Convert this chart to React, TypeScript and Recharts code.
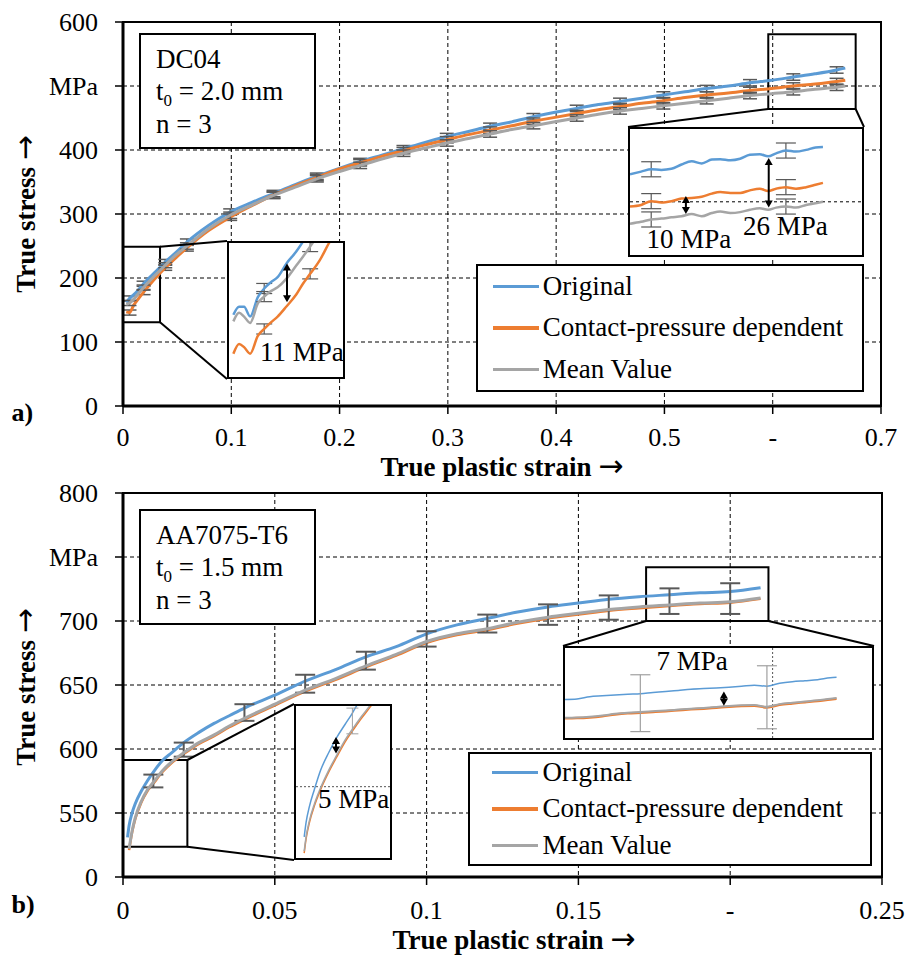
import React from 'react';
import {
  LineChart,
  Line,
  XAxis,
  YAxis,
  CartesianGrid,
  ErrorBar,
  ReferenceArea,
  ReferenceLine,
  Legend,
} from 'recharts';

const FONT = '"Liberation Serif", "Times New Roman", serif';
const ARROW_FONT = '"DejaVu Sans", sans-serif';
const BLUE = '#5B9BD5';
const ORANGE = '#ED7D31';
const GRAY = '#A5A5A5';
const ERR_DARK = '#595959';
const ERR_LIGHT = '#A0A0A0';

// ---------- a) DC04, main curves ----------
const xA = [0.003, 0.006, 0.01, 0.014, 0.019, 0.029, 0.039, 0.049, 0.059, 0.079, 0.099, 0.119, 0.139, 0.159, 0.179, 0.199,
  0.219, 0.239, 0.259, 0.279, 0.299, 0.319, 0.339, 0.359, 0.379, 0.399, 0.419, 0.439, 0.459, 0.479, 0.499, 0.519,
  0.539, 0.559, 0.579, 0.599, 0.619, 0.639, 0.659, 0.667];
const origA = [162, 168, 174, 181, 191, 208, 225, 240, 256, 282, 303, 318, 332, 346, 359, 371,
  382, 392, 402, 412, 421, 429, 437, 444, 452, 459, 465, 471, 476, 481, 486, 491,
  496, 500, 505, 509, 514, 519, 525, 528];
const contactA = [147, 146, 158, 167, 178, 198, 216, 232, 247, 274, 295, 313, 330, 344, 357, 370,
  380, 390, 399, 408, 416, 424, 431, 438, 445, 451, 457, 463, 468, 473, 477, 482,
  486, 489, 493, 496, 500, 503, 507, 509];
const meanA = [159, 161, 167, 175, 185, 203, 220, 236, 250, 277, 298, 314, 329, 342, 355, 366,
  376, 386, 395, 403, 411, 418, 425, 432, 438, 444, 450, 456, 461, 465, 469, 473,
  477, 481, 485, 488, 491, 495, 498, 500];
const errA = [null, 4, null, null, 4, null, 4, null, 5, null, 5, null, 5, null, 5, null,
  5, null, 5, null, 5, null, 5, null, 5, null, 5, null, 5, null, 5, null,
  5, null, 5, null, 5, null, 5, null];

const xTicksA = [0, 0.1, 0.2, 0.3, 0.4, 0.5, 0.6, 0.7];
const xLabelsA = ['0', '0.1', '0.2', '0.3', '0.4', '0.5', '-', '0.7'];
const yTicksA = [0, 100, 200, 300, 400, 500, 600];
const yLabelsA = ['0', '100', '200', '300', '400', 'MPa', '600'];

// inset a1 (start of curve)
const xInA = [0.0013, 0.003, 0.0045, 0.0063, 0.0086, 0.0105, 0.0125, 0.0145, 0.0172, 0.02, 0.022, 0.0242, 0.027, 0.0297, 0.032];
const origInA = [162.6, 165.8, 165.8, 161.9, 169.6, 173.0, 175.5, 177.5, 183.0, 187.5, 191.4, 196, 200, 204, 208];
const contactInA = [147.2, 151.1, 149.8, 147.2, 154.3, 157.0, 159.6, 161.9, 166.0, 170.5, 174.8, 178.8, 184.0, 190.7, 196];
const meanInA = [160.0, 163.4, 161.9, 159.4, 167.1, 169.8, 172.0, 173.5, 177.0, 182.0, 185.5, 189.6, 195, 199, 203];
const errInA = [null, null, null, null, null, 2, null, null, null, null, null, 2, null, null, null];

// inset a2 (end of curve)
const xInA2 = [0.6127, 0.616, 0.619, 0.622, 0.625, 0.628, 0.631, 0.634, 0.637, 0.6395, 0.6425, 0.6454, 0.6483, 0.6512,
  0.6537, 0.6561, 0.659, 0.662, 0.665, 0.6678, 0.67];
const origInA2 = [512.0, 513.2, 514.3, 514.0, 514.5, 516.5, 518.0, 517.0, 518.8, 519.0, 518.5, 519.2, 521.0, 521.3,
  520.3, 521.7, 523.0, 522.5, 523.3, 524.4, 524.6];
const contactInA2 = [497.0, 497.7, 499.5, 498.9, 499.5, 500.7, 501.0, 501.5, 503.0, 503.7, 503.3, 503.3, 504.5, 505.3,
  504.2, 505.3, 506.0, 505.3, 506.0, 507.1, 508.0];
const meanInA2 = [489.0, 489.9, 491.0, 491.4, 492.0, 492.5, 493.5, 492.5, 494.0, 494.7, 494.0, 494.4, 495.5, 496.2,
  495.5, 496.5, 497.0, 496.5, 497.7, 498.5, 499.2];
const errInA2 = [null, null, 3.5, null, null, null, null, null, null, null, null, null, null, null,
  null, null, 3.5, null, null, null, null];

// ---------- b) AA7075-T6, main curves ----------
const xB = [0.0015, 0.002, 0.003, 0.004, 0.006, 0.008, 0.01, 0.013, 0.016, 0.02, 0.025, 0.03, 0.035, 0.04, 0.05, 0.06,
  0.07, 0.08, 0.09, 0.1, 0.11, 0.12, 0.13, 0.14, 0.15, 0.16, 0.17, 0.18, 0.19, 0.2, 0.21];
const origB = [531, 540, 550, 557, 567, 575, 582, 591, 597, 605, 613, 620, 626, 632, 642, 653,
  662, 672, 680, 690, 697, 702, 707, 711, 714, 717, 719, 720.5, 722, 723, 726];
const contactB = [null, 521, 535, 545, 558, 567, 573, 582, 589, 596, 604, 610, 617, 623, 634, 645,
  654, 664, 673, 683, 689, 693, 698, 702, 705, 708, 710, 711.8, 713.3, 714.3, 717.3];
const meanB = [null, 522, 536, 546, 559, 568, 574, 583, 590, 597, 605, 611, 618, 624, 635, 646,
  655, 665, 674, 684, 690, 694, 699, 703, 706, 709, 711, 712.5, 714, 715, 718];
const errB = [null, null, null, null, null, null, [4, 6], null, null, [3, 8], null, null, null, [2, 11], null, [2, 12],
  null, [3, 11], null, [4, 8], null, [3, 11], null, [6, 10], null, [8, 11], null, [7, 13], null, [9.5, 14.5], null];

const xTicksB = [0, 0.05, 0.1, 0.15, 0.2, 0.25];
const xLabelsB = ['0', '0.05', '0.1', '0.15', '-', '0.25'];
const yTicksB = [500, 550, 600, 650, 700, 750, 800];
const yLabelsB = ['0', '550', '600', '650', '700', 'MPa', '800'];

// inset b1 (start of curve)
const xInB = [0.0017, 0.0021, 0.0028, 0.0038, 0.0051, 0.0068, 0.0084, 0.0102, 0.0117, 0.0124, 0.0135, 0.0154, 0.0165];
const origInB = [531.0, 537.3, 544.2, 551.2, 559.5, 567.1, 573.4, 579.2, 584.0, 586.5, 590, 596, 599];
const contactInB = [524.1, 530.3, 537.3, 544.2, 551.2, 558.8, 565.0, 571.7, 576.3, 578.3, 581.5, 586.6, 590];
const meanInB = [524.9, 531.1, 538.1, 545.0, 552.0, 559.6, 565.8, 572.5, 577.1, 579.1, 582.3, 587.4, 590.8];
const errInB = [null, null, null, null, null, null, null, null, [2, 9], null, null, null, null];

// inset b2 (end of curve)
const xInB2 = [0.168, 0.17, 0.172, 0.174, 0.176, 0.178, 0.18, 0.182, 0.184, 0.186, 0.188, 0.19, 0.192, 0.194, 0.196,
  0.198, 0.2, 0.202, 0.204, 0.206, 0.208, 0.21, 0.211];
const origInB2 = [718.3, 718.5, 719.4, 719.8, 720.2, 720.5, 720.7, 721.2, 721.6, 722.1, 722.6, 722.9, 723.1, 723.4,
  723.8, 724.3, 723.9, 725.1, 725.8, 726.2, 726.6, 727.4, 727.6];
const contactInB2 = [710.3, 710.4, 710.7, 711.2, 711.9, 712.4, 712.7, 713.0, 713.3, 713.7, 714.1, 714.4, 714.8, 715.2,
  715.5, 715.6, 714.9, 716.0, 716.6, 717.1, 717.6, 718.3, 718.6];
const meanInB2 = [710.6, 710.7, 711.0, 711.5, 712.2, 712.7, 713.0, 713.3, 713.6, 714.0, 714.4, 714.7, 715.1, 715.5,
  715.8, 715.9, 715.2, 716.3, 716.9, 717.4, 717.9, 718.6, 718.9];
const errInB2 = [null, null, null, null, null, null, [8.3, 15.7], null, null, null, null, null, null, null,
  null, null, [9.3, 17.3], null, null, null, null, null, null];

const seriesNames = ['Original', 'Contact-pressure dependent', 'Mean Value'];

function rows(xs: number[], o: any[], c: any[], m: any[], e: any[]) {
  return xs.map((x, i) => ({ x, orig: o[i], contact: c[i], mean: m[i], err: e[i] }));
}

const dataA = rows(xA, origA, contactA, meanA, errA);
const dataInA = rows(xInA, origInA, contactInA, meanInA, errInA);
const dataInA2 = rows(xInA2, origInA2, contactInA2, meanInA2, errInA2);
const dataB = rows(xB, origB, contactB, meanB, errB);
const dataInB = rows(xInB, origInB, contactInB, meanInB, errInB);
const dataInB2 = rows(xInB2, origInB2, contactInB2, meanInB2, errInB2);

// layout of the two panels (page pixels)
const geoA = { top: 0, height: 470, plotL: 123, plotR: 881, plotT: 22, plotB: 406, xMax: 0.7, yMin: 0, yMax: 600 };
const geoB = { top: 470, height: 488, plotL: 123, plotR: 882, plotT: 493, plotB: 877, xMax: 0.25, yMin: 500, yMax: 800 };

function toData(g: any, px: number, py: number) {
  return {
    x: ((px - g.plotL) / (g.plotR - g.plotL)) * g.xMax,
    y: g.yMin + ((g.plotB - py) / (g.plotB - g.plotT)) * (g.yMax - g.yMin),
  };
}

const boxInA = { left: 227, top: 241, w: 118, h: 138 };
const boxInA2 = { left: 628, top: 127, w: 236, h: 130 };
const boxInB = { left: 294, top: 704, w: 98, h: 156 };
const boxInB2 = { left: 563, top: 646, w: 311, h: 94 };

const labelFor = (ticks: number[], labels: string[]) => (v: number) => {
  const i = ticks.findIndex((t) => Math.abs(t - v) < 1e-9);
  return i >= 0 ? labels[i] : String(v);
};

const DoubleArrow = (p: any) => {
  const { x1, y1, x2, y2 } = p;
  const dx = x2 - x1;
  const dy = y2 - y1;
  const len = Math.hypot(dx, dy) || 1;
  const ux = dx / len;
  const uy = dy / len;
  const h = 7;
  const w = 4;
  const head = (tx: number, ty: number, s: number) => {
    const bx = tx - s * ux * h;
    const by = ty - s * uy * h;
    return `${tx},${ty} ${bx - uy * w},${by + ux * w} ${bx + uy * w},${by - ux * w}`;
  };
  return (
    <g>
      <line x1={x1 + ux * h * 0.7} y1={y1 + uy * h * 0.7} x2={x2 - ux * h * 0.7} y2={y2 - uy * h * 0.7} stroke="#000" strokeWidth={2} />
      <polygon points={head(x2, y2, 1)} fill="#000" />
      <polygon points={head(x1, y1, -1)} fill="#000" />
    </g>
  );
};

function seriesLines(opts: { w: number[]; err?: string; errW?: number; cap?: number; errOn: boolean[] }) {
  const keys = ['orig', 'contact', 'mean'];
  const colors = [BLUE, ORANGE, GRAY];
  return keys.map((k, i) => (
    <Line
      key={k}
      type="monotone"
      dataKey={k}
      name={seriesNames[i]}
      stroke={colors[i]}
      strokeWidth={opts.w[i]}
      dot={false}
      activeDot={false}
      isAnimationActive={false}
    >
      {opts.errOn[i] && (
        <ErrorBar
          dataKey="err"
          direction="y"
          width={opts.cap ?? 8}
          stroke={opts.err ?? ERR_DARK}
          strokeWidth={opts.errW ?? 1.5}
          isAnimationActive={false}
        />
      )}
    </Line>
  ));
}

function legendContent(box: { w: number; h: number }, lineLeft: number) {
  const rowH = (box.h - 4) / 3;
  return (props: any) => {
    const items = [...(props.payload || [])].sort(
      (a: any, b: any) => seriesNames.indexOf(a.value) - seriesNames.indexOf(b.value)
    );
    return (
      <div
        style={{
          width: box.w,
          height: box.h,
          border: '2px solid #000',
          background: '#fff',
          boxSizing: 'border-box',
          fontFamily: FONT,
          fontSize: 27,
          color: '#000',
        }}
      >
        {items.map((e: any) => (
          <div key={e.value} style={{ height: rowH, display: 'flex', alignItems: 'center' }}>
            <div style={{ width: 46, height: 3.5, background: e.color, marginLeft: lineLeft, marginRight: 4 }} />
            <span style={{ lineHeight: 1, whiteSpace: 'nowrap' }}>{e.value}</span>
          </div>
        ))}
      </div>
    );
  };
}

function Inset(props: { box: any; data: any[]; xd: number[]; yd: number[]; children: any }) {
  const { box } = props;
  return (
    <div
      style={{
        position: 'absolute',
        left: box.left,
        top: box.top,
        width: box.w,
        height: box.h,
        border: '2px solid #000',
        background: '#fff',
        boxSizing: 'border-box',
      }}
    >
      <LineChart width={box.w - 4} height={box.h - 4} data={props.data} margin={{ top: 0, right: 0, bottom: 0, left: 0 }}>
        <XAxis type="number" dataKey="x" domain={props.xd} allowDataOverflow hide />
        <YAxis type="number" domain={props.yd} allowDataOverflow hide />
        {props.children}
      </LineChart>
    </div>
  );
}

const axisLine = { stroke: '#000', strokeWidth: 3 };
const tickLine = { stroke: '#000', strokeWidth: 1.5 };
const tickStyle = { fill: '#000', fontSize: 26, fontFamily: FONT };

function connectors(g: any, pairs: [number, number, number, number][]) {
  return pairs.map(([zx, zy, px, py], i) => {
    const d = toData(g, px, py);
    return (
      <ReferenceLine
        key={'c' + i}
        segment={[{ x: zx, y: zy }, { x: d.x, y: d.y }]}
        stroke="#000"
        strokeWidth={2}
        ifOverflow="visible"
      />
    );
  });
}

export default function App() {
  const zoomA1 = { x1: 0, x2: 0.0342, y1: 130.8, y2: 248.9 };
  const zoomA2 = { x1: 0.5959, x2: 0.6766, y1: 464.1, y2: 580.8 };
  const zoomB1 = { x1: 0, x2: 0.0212, y1: 523.7, y2: 591.4 };
  const zoomB2 = { x1: 0.1723, x2: 0.2126, y1: 700, y2: 742 };

  const infoBox: React.CSSProperties = {
    position: 'absolute',
    left: 139,
    width: 177,
    height: 116,
    border: '2px solid #000',
    background: '#fff',
    boxSizing: 'border-box',
    padding: '7.6px 0 0 15px',
    fontSize: 27,
    lineHeight: '32.5px',
    color: '#000',
  };
  const sub: React.CSSProperties = { fontSize: 17, position: 'relative', top: 5.5, lineHeight: 0 };
  const arrow = (size: number) => (
    <tspan fontFamily={ARROW_FONT} fontWeight="normal" fontSize={size}>
      {'→'}
    </tspan>
  );

  return (
    <div
      style={{
        position: 'absolute',
        left: 0,
        top: 0,
        width: 909,
        height: 958,
        background: '#fff',
        fontFamily: FONT,
        overflow: 'hidden',
      }}
    >
      {/* panel a */}
      <div style={{ position: 'absolute', left: 0, top: geoA.top }}>
        <LineChart width={909} height={geoA.height} data={dataA} margin={{ top: 22, right: 28, bottom: 0, left: 0 }}>
          <CartesianGrid stroke="#000" strokeDasharray="4 3" strokeWidth={1} />
          <XAxis
            type="number"
            dataKey="x"
            domain={[0, 0.7]}
            ticks={xTicksA}
            interval={0}
            tickFormatter={labelFor(xTicksA, xLabelsA)}
            height={64}
            axisLine={axisLine}
            tickLine={tickLine}
            tickSize={8}
            tickMargin={14}
            tick={tickStyle}
            allowDataOverflow
          />
          <YAxis
            type="number"
            domain={[0, 600]}
            ticks={yTicksA}
            interval={0}
            tickFormatter={labelFor(yTicksA, yLabelsA)}
            width={123}
            axisLine={axisLine}
            tickLine={tickLine}
            tickSize={8}
            tickMargin={17}
            tick={tickStyle}
            allowDataOverflow
          />
          <ReferenceArea x1={0} x2={0.7} y1={0} y2={600} fill="none" fillOpacity={0} stroke="#000" strokeWidth={2} ifOverflow="visible" />
          {seriesLines({ w: [3, 3, 3], errOn: [true, true, true], cap: 7, errW: 1.5 })}
          <ReferenceArea {...zoomA1} fill="none" fillOpacity={0} stroke="#000" strokeWidth={2} ifOverflow="visible" />
          <ReferenceArea {...zoomA2} fill="none" fillOpacity={0} stroke="#000" strokeWidth={2} ifOverflow="visible" />
          {connectors(geoA, [
            [zoomA1.x2, zoomA1.y2, boxInA.left, boxInA.top],
            [zoomA1.x2, zoomA1.y1, boxInA.left, boxInA.top + boxInA.h],
            [zoomA2.x1, zoomA2.y1, boxInA2.left, boxInA2.top],
            [zoomA2.x2, zoomA2.y1, boxInA2.left + boxInA2.w, boxInA2.top],
          ])}
          <Legend
            layout="vertical"
            align="center"
            verticalAlign="middle"
            content={legendContent({ w: 388, h: 128 }, 14.7)}
            wrapperStyle={{ left: 476, top: 264, width: 388, height: 128 }}
          />
        </LineChart>
      </div>

      {/* panel b */}
      <div style={{ position: 'absolute', left: 0, top: geoB.top }}>
        <LineChart width={909} height={geoB.height} data={dataB} margin={{ top: 23, right: 27, bottom: 0, left: 0 }}>
          <CartesianGrid stroke="#000" strokeDasharray="4 3" strokeWidth={1} />
          <XAxis
            type="number"
            dataKey="x"
            domain={[0, 0.25]}
            ticks={xTicksB}
            interval={0}
            tickFormatter={labelFor(xTicksB, xLabelsB)}
            height={81}
            axisLine={axisLine}
            tickLine={tickLine}
            tickSize={8}
            tickMargin={16}
            tick={tickStyle}
            allowDataOverflow
          />
          <YAxis
            type="number"
            domain={[500, 800]}
            ticks={yTicksB}
            interval={0}
            tickFormatter={labelFor(yTicksB, yLabelsB)}
            width={123}
            axisLine={axisLine}
            tickLine={tickLine}
            tickSize={8}
            tickMargin={17}
            tick={tickStyle}
            allowDataOverflow
          />
          <ReferenceArea x1={0} x2={0.25} y1={500} y2={800} fill="none" fillOpacity={0} stroke="#000" strokeWidth={2} ifOverflow="visible" />
          {seriesLines({ w: [3, 2.5, 3], errOn: [false, false, true], cap: 10, errW: 2 })}
          <ReferenceArea {...zoomB1} fill="none" fillOpacity={0} stroke="#000" strokeWidth={2} ifOverflow="visible" />
          <ReferenceArea {...zoomB2} fill="none" fillOpacity={0} stroke="#000" strokeWidth={2} ifOverflow="visible" />
          {connectors(geoB, [
            [zoomB1.x2, zoomB1.y2, boxInB.left, boxInB.top],
            [zoomB1.x2, zoomB1.y1, boxInB.left, boxInB.top + boxInB.h],
            [zoomB2.x1, zoomB2.y1, boxInB2.left, boxInB2.top],
            [zoomB2.x2, zoomB2.y1, boxInB2.left + boxInB2.w, boxInB2.top],
          ])}
          <Legend
            layout="vertical"
            align="center"
            verticalAlign="middle"
            content={legendContent({ w: 404, h: 114 }, 22.4)}
            wrapperStyle={{ left: 468, top: 752 - geoB.top, width: 404, height: 114 }}
          />
        </LineChart>
      </div>

      {/* insets */}
      <Inset box={boxInA} data={dataInA} xd={[0, 0.034]} yd={[138, 191]}>
        {seriesLines({ w: [2.5, 2.5, 2.5], errOn: [true, true, true], cap: 8, errW: 1.2 })}
        <ReferenceLine segment={[{ x: 0.0173, y: 182.9 }, { x: 0.0173, y: 167.6 }]} shape={DoubleArrow} />
      </Inset>
      <Inset box={boxInA2} data={dataInA2} xd={[0.6127, 0.6816]} yd={[474.5, 533]}>
        <ReferenceLine y={499.2} stroke="#000" strokeWidth={1} strokeDasharray="3 3" />
        {seriesLines({ w: [2.5, 2.5, 2.5], errOn: [true, true, true], cap: 10, errW: 1.2 })}
        <ReferenceLine segment={[{ x: 0.6293, y: 501.9 }, { x: 0.6293, y: 493.5 }]} shape={DoubleArrow} />
        <ReferenceLine segment={[{ x: 0.6539, y: 519.5 }, { x: 0.6539, y: 496.5 }]} shape={DoubleArrow} />
      </Inset>
      <Inset box={boxInB} data={dataInB} xd={[0, 0.0195]} yd={[522, 587]}>
        <ReferenceLine y={552.5} stroke="#555" strokeWidth={1} strokeDasharray="2 2" />
        {seriesLines({ w: [1.5, 1.5, 1.5], errOn: [false, false, true], err: ERR_LIGHT, cap: 6, errW: 1 })}
        <ReferenceLine segment={[{ x: 0.0083, y: 573.7 }, { x: 0.0083, y: 566.7 }]} shape={DoubleArrow} />
      </Inset>
      <Inset box={boxInB2} data={dataInB2} xd={[0.1681, 0.2166]} yd={[702, 740]}>
        <ReferenceLine x={0.2009} stroke="#555" strokeWidth={1} strokeDasharray="2 2" />
        {seriesLines({ w: [1.5, 2.5, 2], errOn: [false, false, true], err: ERR_LIGHT, cap: 10, errW: 1.2 })}
        <ReferenceLine segment={[{ x: 0.1932, y: 721.6 }, { x: 0.1932, y: 715.6 }]} shape={DoubleArrow} />
      </Inset>

      {/* material boxes */}
      <div style={{ ...infoBox, top: 33 }}>
        <div>DC04</div>
        <div>
          t<span style={sub}>0</span> = 2.0 mm
        </div>
        <div>n = 3</div>
      </div>
      <div style={{ ...infoBox, top: 509 }}>
        <div>AA7075-T6</div>
        <div>
          t<span style={sub}>0</span> = 1.5 mm
        </div>
        <div>n = 3</div>
      </div>

      {/* titles and annotation text */}
      <svg width={909} height={958} style={{ position: 'absolute', left: 0, top: 0, pointerEvents: 'none' }}>
        <g fontFamily={FONT} fill="#000">
          <text transform="translate(35,214) rotate(-90)" textAnchor="middle" fontWeight="bold" fontSize={27}>
            True stress {arrow(30)}
          </text>
          <text transform="translate(35,687) rotate(-90)" textAnchor="middle" fontWeight="bold" fontSize={27}>
            True stress {arrow(30)}
          </text>
          <text x={502} y={476} textAnchor="middle" fontWeight="bold" fontSize={27}>
            True plastic strain {arrow(30)}
          </text>
          <text x={514} y={949} textAnchor="middle" fontWeight="bold" fontSize={27}>
            True plastic strain {arrow(30)}
          </text>
          <text x={11.5} y={421} fontWeight="bold" fontSize={26}>a)</text>
          <text x={11.5} y={913} fontWeight="bold" fontSize={26}>b)</text>
          <text x={260} y={361} fontSize={27}>11 MPa</text>
          <text x={646.5} y={247.5} fontSize={27}>10 MPa</text>
          <text x={743} y={235} fontSize={27}>26 MPa</text>
          <text x={318} y={808} fontSize={27}>5 MPa</text>
          <text x={656.5} y={670} fontSize={27}>7 MPa</text>
        </g>
      </svg>
    </div>
  );
}
